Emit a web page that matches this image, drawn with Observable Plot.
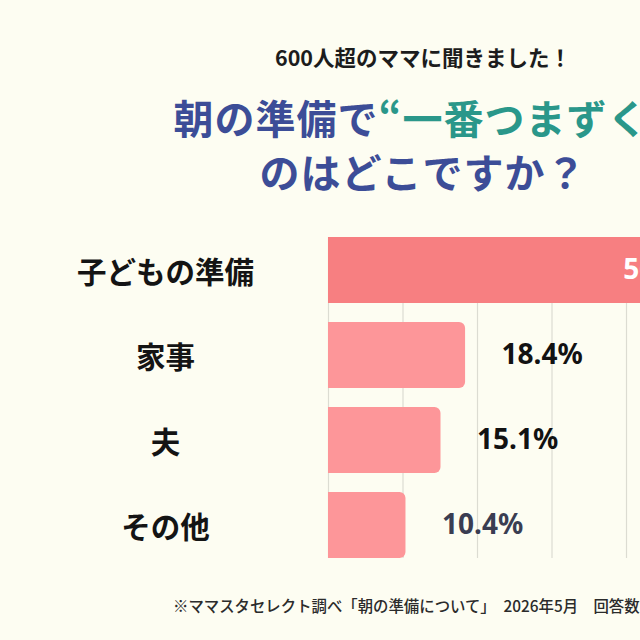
<!DOCTYPE html>
<html lang="ja">
<head>
<meta charset="utf-8">
<script src="https://cdn.jsdelivr.net/npm/d3@7"></script>
<script src="https://cdn.jsdelivr.net/npm/@observablehq/plot@0.6"></script>
<style>
  html, body {
    margin: 0;
    padding: 0;
    width: 640px;
    height: 640px;
    overflow: hidden;
    background: #fdfdf2;
    font-family: "Noto Sans CJK JP", "Noto Sans", sans-serif;
  }
  #wrap {
    position: relative;
    width: 846px;
    height: 640px;
  }
  .sub {
    position: absolute;
    top: 44px;
    left: 0;
    width: 846px;
    text-align: center;
    font-size: 21.5px;
    line-height: 26px;
    font-weight: 700;
    color: #1c1c1c;
  }
  .title {
    position: absolute;
    top: 90px;
    left: 0;
    width: 846px;
    text-align: center;
    font-size: 40px;
    line-height: 54px;
    font-weight: 700;
    color: #3c4d97;
    letter-spacing: 1px;
  }
  .title .hl { color: #2a978a; }
  #chart {
    position: absolute;
    top: 220px;
    left: 0;
  }
  .note {
    position: absolute;
    top: 596px;
    left: 173px;
    font-size: 15.4px;
    line-height: 18px;
    font-weight: 500;
    color: #2b2b2b;
    white-space: nowrap;
  }
</style>
</head>
<body>
<div id="wrap">
  <div class="sub">600人超のママに聞きました！</div>
  <div class="title">朝の準備で<span class="hl">“一番つまずく”</span><br>のはどこですか？</div>
  <div id="chart"></div>
  <div class="note">※ママスタセレクト調べ「朝の準備について」　2026年5月　回答数</div>
</div>
<script>
// Survey answers: what trips moms up most in the morning routine (%)
const categories = ["子どもの準備", "家事", "夫", "その他"];
const shares = [56.1, 18.4, 15.1, 10.4];
const gridTicks = [0, 10, 20, 30, 40, 50];

const rows = categories.map((category, i) => ({category, share: shares[i]}));
const lead = rows.slice(0, 1);
const rest = rows.slice(1);
const fmt = d => d.share.toFixed(1) + "%";

const chart = Plot.plot({
  width: 846,
  height: 360,
  marginTop: 17,
  marginBottom: 22,
  marginLeft: 328,
  marginRight: 0,
  style: {
    background: "transparent",
    fontFamily: "'Noto Sans CJK JP', 'Noto Sans', sans-serif",
    overflow: "visible"
  },
  x: {domain: [0, 70], range: [328, 328 + 7.45 * 70], axis: null},
  y: {domain: categories, paddingInner: 0.224, paddingOuter: 0},
  marks: [
    Plot.ruleX(gridTicks, {stroke: "#dcdcd2", strokeWidth: 1.2}),
    Plot.barX(lead, {x: "share", y: "category", fill: "#f77f81"}),
    Plot.barX(rest, {x: "share", y: "category", fill: "#fd9699", rx: 6}),
    // square off the left end of the rounded bars
    Plot.barX(rest, {x1: 0, x2: d => d.share / 2, y: "category", fill: "#fd9699"}),
    Plot.text(lead, {
      x: "share", y: "category", text: fmt,
      textAnchor: "end", dx: -42, fill: "#ffffff",
      fontSize: 28, fontWeight: "bold", fontFamily: "'Noto Sans', sans-serif"
    }),
    Plot.text(rest, {
      x: "share", y: "category", text: fmt,
      textAnchor: "start", dx: 36,
      fill: d => d.category === "その他" ? "#3a3d52" : "#121212",
      fontSize: 28, fontWeight: "bold", fontFamily: "'Noto Sans', sans-serif"
    }),
    Plot.axisY({
      tickSize: 0, tickPadding: 163, textAnchor: "middle", dy: 3,
      fontSize: 29.5, fontWeight: "bold", fill: "#141414", label: null
    })
  ]
});

document.getElementById("chart").append(chart);
</script>
</body>
</html>
